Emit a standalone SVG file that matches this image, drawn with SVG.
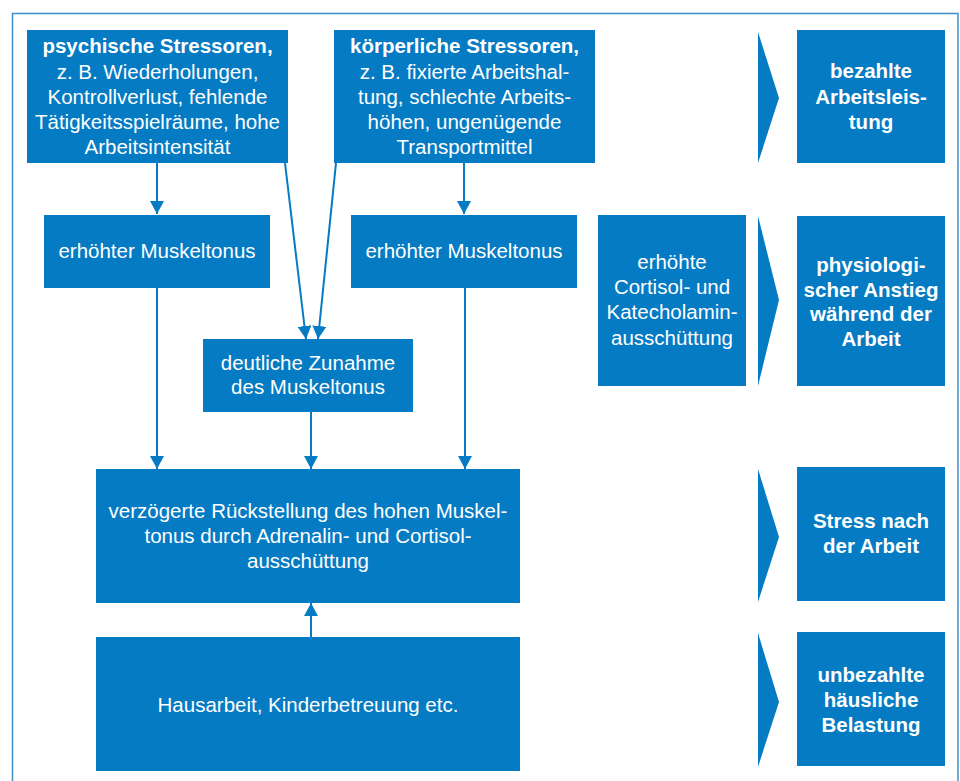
<svg xmlns="http://www.w3.org/2000/svg" width="960" height="781" viewBox="0 0 960 781">
<defs>
<style>
.box{fill:#047bc3}
.t{font-family:"Liberation Sans",Arial,sans-serif;font-size:20.5px;fill:#fff;text-anchor:middle}
.b{font-weight:bold}
.c{stroke:#047bc3;stroke-width:2;fill:none}
.chev{fill:#047bc3}
</style>
<marker id="ah" markerUnits="userSpaceOnUse" markerWidth="14" markerHeight="14" viewBox="0 0 14 14" refX="13" refY="7" orient="auto">
<path d="M0,0 L13,7 L0,14 Z" fill="#047bc3"/>
</marker>
</defs>
<rect width="960" height="781" fill="#fff"/>
<path d="M12.5,781 V13.5 H958 V781" fill="none" stroke="#3d8fca" stroke-width="1.5"/>

<g id="connectors">
<line class="c" x1="157" y1="163" x2="157" y2="214" marker-end="url(#ah)"/>
<line class="c" x1="464" y1="163" x2="464" y2="214" marker-end="url(#ah)"/>
<line class="c" x1="285" y1="163" x2="306" y2="339" marker-end="url(#ah)"/>
<line class="c" x1="336" y1="163" x2="318" y2="339" marker-end="url(#ah)"/>
<line class="c" x1="157" y1="288" x2="157" y2="469" marker-end="url(#ah)"/>
<line class="c" x1="465" y1="288" x2="465" y2="469" marker-end="url(#ah)"/>
<line class="c" x1="311" y1="412" x2="311" y2="469" marker-end="url(#ah)"/>
<line class="c" x1="311" y1="637" x2="311" y2="603" marker-end="url(#ah)"/>
</g>

<g id="psychisch">
<rect class="box" x="27" y="30" width="261" height="133"/>
<text class="t"><tspan class="b" x="157.5" y="53">psychische Stressoren,</tspan><tspan x="157.5" y="78.5">z. B. Wiederholungen,</tspan><tspan x="157.5" y="104">Kontrollverlust, fehlende</tspan><tspan x="157.5" y="129">Tätigkeitsspielräume, hohe</tspan><tspan x="157.5" y="154">Arbeitsintensität</tspan></text>
</g>
<g id="koerperlich">
<rect class="box" x="334" y="30" width="261" height="133"/>
<text class="t"><tspan class="b" x="464.5" y="53">körperliche Stressoren,</tspan><tspan x="464.5" y="78.5">z. B. fixierte Arbeitshal-</tspan><tspan x="464.5" y="104">tung, schlechte Arbeits-</tspan><tspan x="464.5" y="129">höhen, ungenügende</tspan><tspan x="464.5" y="154">Transportmittel</tspan></text>
</g>
<g id="muskel1">
<rect class="box" x="44" y="215" width="226" height="73"/>
<text class="t" x="157" y="258">erhöhter Muskeltonus</text>
</g>
<g id="muskel2">
<rect class="box" x="351" y="215" width="226" height="73"/>
<text class="t" x="464" y="258">erhöhter Muskeltonus</text>
</g>
<g id="zunahme">
<rect class="box" x="203" y="339" width="210" height="73"/>
<text class="t"><tspan x="308" y="370">deutliche Zunahme</tspan><tspan x="308" y="394">des Muskeltonus</tspan></text>
</g>
<g id="cortisol">
<rect class="box" x="598" y="215" width="148" height="171"/>
<text class="t"><tspan x="672" y="269">erhöhte</tspan><tspan x="672" y="294">Cortisol- und</tspan><tspan x="672" y="319">Katecholamin-</tspan><tspan x="672" y="345">ausschüttung</tspan></text>
</g>
<g id="rueckstellung">
<rect class="box" x="96" y="469" width="424" height="134"/>
<text class="t"><tspan x="308" y="518">verzögerte Rückstellung des hohen Muskel-</tspan><tspan x="308" y="543">tonus durch Adrenalin- und Cortisol-</tspan><tspan x="308" y="568">ausschüttung</tspan></text>
</g>
<g id="hausarbeit">
<rect class="box" x="96" y="637" width="424" height="134"/>
<text class="t" x="308" y="712">Hausarbeit, Kinderbetreuung etc.</text>
</g>

<g id="chevrons">
<polygon class="chev" points="758,32 779,98 758,163"/>
<polygon class="chev" points="758,216 779,300 758,386"/>
<polygon class="chev" points="758,469 779,537 758,602"/>
<polygon class="chev" points="758,633 779,702 758,767"/>
</g>

<g id="bezahlt">
<rect class="box" x="797" y="30" width="148" height="133"/>
<text class="t b"><tspan x="871" y="78">bezahlte</tspan><tspan x="871" y="104">Arbeitsleis-</tspan><tspan x="871" y="129">tung</tspan></text>
</g>
<g id="physiologisch">
<rect class="box" x="797" y="216" width="148" height="170"/>
<text class="t b"><tspan x="871" y="272">physiologi-</tspan><tspan x="871" y="297">scher Anstieg</tspan><tspan x="871" y="321">während der</tspan><tspan x="871" y="346">Arbeit</tspan></text>
</g>
<g id="stress">
<rect class="box" x="797" y="467" width="148" height="134"/>
<text class="t b"><tspan x="871" y="528">Stress nach</tspan><tspan x="871" y="553">der Arbeit</tspan></text>
</g>
<g id="unbezahlt">
<rect class="box" x="797" y="632" width="148" height="134"/>
<text class="t b"><tspan x="871" y="682">unbezahlte</tspan><tspan x="871" y="707">häusliche</tspan><tspan x="871" y="732">Belastung</tspan></text>
</g>
</svg>
